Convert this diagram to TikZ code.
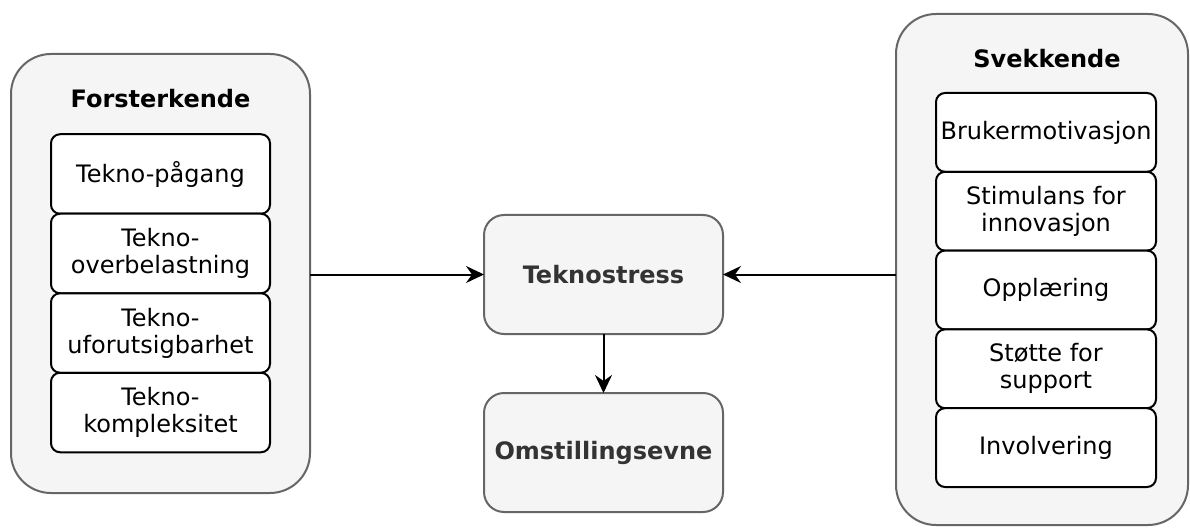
\documentclass[tikz,border=0pt]{standalone}
\usepackage{fontspec}
\setmainfont{DejaVu Sans}
\usetikzlibrary{arrows.meta}
\definecolor{boxfill}{HTML}{F5F5F5}
\definecolor{boxline}{HTML}{666666}
\definecolor{txtdark}{HTML}{333333}
\begin{document}
\begin{tikzpicture}[x=1pt,y=-1pt,
  every node/.style={inner sep=0pt,outer sep=0pt,font=\fontsize{24}{27}\selectfont},
  group/.style={draw=boxline,fill=boxfill,line width=2pt,rounded corners=40pt},
  item/.style={draw=black,fill=white,line width=2pt,rounded corners=9pt,align=center,
    minimum width=219pt},
  central/.style={draw=boxline,fill=boxfill,line width=2pt,rounded corners=20pt,
    minimum width=239pt,minimum height=119pt,text=txtdark,font=\fontsize{24}{27}\selectfont\bfseries},
  title/.style={font=\fontsize{24}{27}\selectfont\bfseries},
  conn/.style={line width=2pt,-{Stealth[length=18pt,width=17pt,inset=6pt]}}]
\useasboundingbox (0,0) rectangle (1190,529);
\fill[white] (0,0) rectangle (1190,529);
% groups
\node[group,minimum width=299pt,minimum height=439pt] (lo) at (160.5,273.5) {};
\node[group,minimum width=292pt,minimum height=511pt] (ro) at (1042,269.5) {};
\node[title] (lt) at (160.5,99) {Forsterkende};
\node[title] (rt) at (1047,59) {Svekkende};
% left items
\node[item,minimum height=79.5pt] (l1) at (160.5,174) {Tekno-pågang};
\node[item,minimum height=79.5pt] (l2) at (160.5,253.5) {Tekno-\\overbelastning};
\node[item,minimum height=79.5pt] (l3) at (160.5,333) {Tekno-\\uforutsigbarhet};
\node[item,minimum height=79.5pt] (l4) at (160.5,412.5) {Tekno-\\kompleksitet};
% right items
\node[item,minimum width=220pt,minimum height=78.8pt] (r1) at (1046,132.4) {Brukermotivasjon};
\node[item,minimum width=220pt,minimum height=78.8pt] (r2) at (1046,211.2) {Stimulans for\\innovasjon};
\node[item,minimum width=220pt,minimum height=78.8pt] (r3) at (1046,290) {Opplæring};
\node[item,minimum width=220pt,minimum height=78.8pt] (r4) at (1046,368.8) {Støtte for\\support};
\node[item,minimum width=220pt,minimum height=78.8pt] (r5) at (1046,447.6) {Involvering};
% central
\node[central] (tek) at (603.5,274.5) {Teknostress};
\node[central] (om) at (603.5,452.5) {Omstillingsevne};
% connectors
\draw[conn] (lo.east |- tek.west) -- (tek.west);
\draw[conn] (ro.west |- tek.east) -- (tek.east);
\draw[conn] (tek.south) -- (om.north);
\end{tikzpicture}
\end{document}
